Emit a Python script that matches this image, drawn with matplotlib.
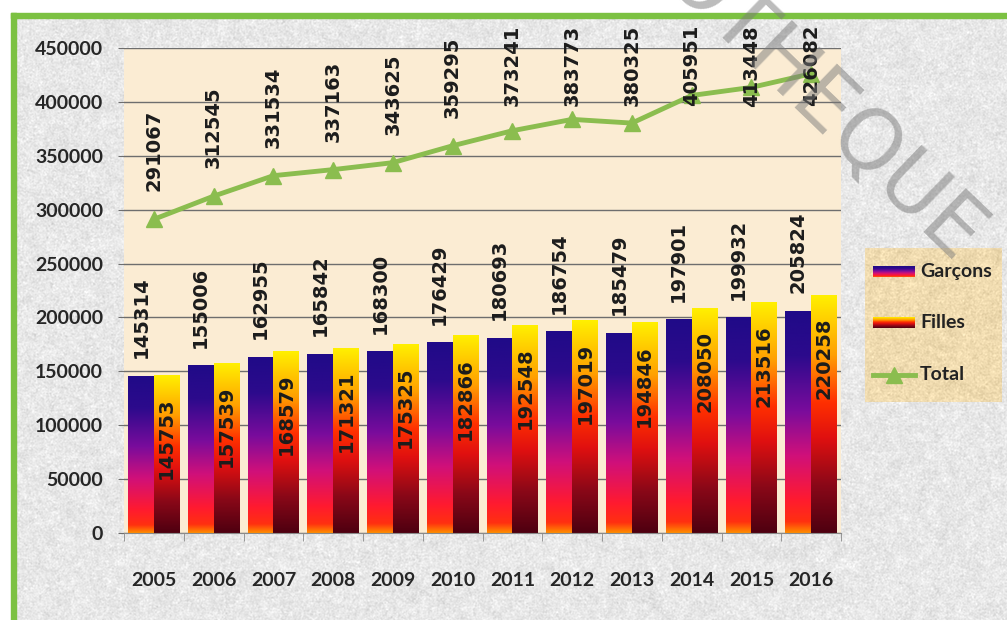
import numpy as np
import matplotlib.pyplot as plt
from matplotlib.colors import LinearSegmentedColormap

# Effectifs par année
years = ['2005', '2006', '2007', '2008', '2009', '2010',
         '2011', '2012', '2013', '2014', '2015', '2016']
garcons = [145314, 155006, 162955, 165842, 168300, 176429,
           180693, 186754, 185479, 197901, 199932, 205824]
filles = [145753, 157539, 168579, 171321, 175325, 182866,
          192548, 197019, 194846, 208050, 213516, 220258]
total = [291067, 312545, 331534, 337163, 343625, 359295,
         373241, 383773, 380325, 405951, 413448, 426082]

W, H = 1007, 620
TICK_FONT = ['Lato', 'DejaVu Sans']
LABEL_FONT = ['DejaVu Sans']

# gradients (bas -> haut)
cmap_g = LinearSegmentedColormap.from_list('garcons', [
    (0.0, '#ff8c00'), (0.05, '#ff3010'), (0.15, '#ff1a30'),
    (0.35, '#d0107a'), (0.55, '#7a0c9c'), (0.8, '#2c0a8c'), (1.0, '#200a88')])
cmap_f = LinearSegmentedColormap.from_list('filles', [
    (0.0, '#4e0010'), (0.2, '#8a0818'), (0.4, '#e01010'),
    (0.55, '#ff3000'), (0.75, '#ffa000'), (1.0, '#fff000')])
line_color = '#8bbd4f'


def blur(a, k):
    kern = np.ones(k) / k
    a = np.apply_along_axis(lambda r: np.convolve(r, kern, mode='same'), 1, a)
    a = np.apply_along_axis(lambda c: np.convolve(c, kern, mode='same'), 0, a)
    return a


def paper(h, w, base, seed):
    rng = np.random.default_rng(seed)
    fine = blur(rng.normal(0, 1, (h, w)), 2)
    coarse = blur(rng.normal(0, 1, (h, w)), 9)
    shade = 0.045 * fine + 0.09 * coarse
    img = np.clip(np.array(base)[None, None, :] + shade[:, :, None], 0, 1)
    return img


fig = plt.figure(figsize=(W / 100, H / 100), dpi=100)

# fond texturé + cadre vert
bg = fig.add_axes([0, 0, 1, 1])
bg.imshow(paper(H, W, (0.91, 0.91, 0.91), 1), extent=[0, W, H, 0], aspect='auto')
bg.fill_between([0, W], 0, 12, color='white')
bg.fill_between([0, 10], 0, H, color='white')
bg.fill_between([11, W], 13, 18, color='#7cc142')
bg.fill_between([11, 16], 13, H, color='#7cc142')
bg.set_xlim(0, W)
bg.set_ylim(H, 0)
bg.axis('off')

ax = fig.add_axes([124 / W, 87 / H, 717 / W, 485 / H])
ax.set_facecolor('#fbecd3')
x = np.arange(len(years))
bw = 0.433

bars_g = ax.bar(x - bw / 2, garcons, bw, color='none', zorder=2)
bars_f = ax.bar(x + bw / 2, filles, bw, color='none', zorder=2)
grad = np.linspace(0, 1, 256).reshape(-1, 1)
for bars, cmap in ((bars_g, cmap_g), (bars_f, cmap_f)):
    for r in bars:
        x0, w, h = r.get_x(), r.get_width(), r.get_height()
        ax.imshow(grad, cmap=cmap, origin='lower', aspect='auto',
                  extent=[x0, x0 + w, 0, h], zorder=2, interpolation='bilinear')

ax.plot(x, total, color=line_color, lw=3.5, marker='^', ms=11, zorder=4)

# étiquettes de valeurs
lab = dict(rotation=90, ha='center', fontsize=14, fontweight='bold',
           family=LABEL_FONT, color='#1c1c1c', textcoords='offset pixels',
           zorder=5, annotation_clip=False)
total_labels = []
for i in range(len(years)):
    total_labels.append(
        ax.annotate(str(total[i]), (x[i], total[i]), xytext=(0, 28), va='bottom', **lab))
    ax.annotate(str(garcons[i]), (x[i] - bw / 2, garcons[i]), xytext=(0, 18), va='bottom', **lab)
    ax.annotate(str(filles[i]), (x[i] + bw / 2, filles[i]), xytext=(0, -22), va='top', **lab)

ax.set_xlim(-0.5, len(years) - 0.5)
ax.set_ylim(0, 450000)
ax.set_yticks(range(0, 450001, 50000))
ax.set_xticks(x)
ax.set_xticklabels(years)
ax.set_xticks(np.arange(-0.5, len(years), 1), minor=True)
ax.grid(axis='y', color='#6e6e6e', lw=1, zorder=1)
ax.set_axisbelow(True)
for s in ('top', 'right', 'left'):
    ax.spines[s].set_visible(False)
ax.spines['bottom'].set_color('#8a8a8a')
ax.tick_params(axis='y', length=4, color='#6e6e6e', pad=11)
ax.tick_params(axis='x', which='major', length=0, pad=28)
ax.tick_params(axis='x', which='minor', length=6, color='#8a8a8a')
for t in ax.get_xticklabels() + ax.get_yticklabels():
    t.set_family(TICK_FONT)
    t.set_fontweight('bold')
    t.set_fontsize(14)
    t.set_color('#262626')

# les étiquettes du total restent sous le cadre
renderer = fig.canvas.get_renderer()
top_limit = H - 25
for ann in total_labels:
    ext = ann.get_window_extent(renderer)
    if ext.y1 > top_limit:
        dx, dy = ann.xyann
        ann.xyann = (dx, dy - (ext.y1 - top_limit))

# légende
lg = fig.add_axes([865 / W, (H - 402) / H, 137 / W, 154 / H])
lg.imshow(paper(154, 137, (0.94, 0.86, 0.69), 2), extent=[0, 137, 0, 154], aspect='auto')
lg.imshow(grad, cmap=cmap_g, origin='lower', aspect='auto', extent=[8, 50, 124.5, 135.5])
lg.imshow(grad, cmap=cmap_f, origin='lower', aspect='auto', extent=[8, 50, 73.5, 84.5])
lg.plot([8, 50], [27, 27], color=line_color, lw=3.5)
lg.plot([29], [27], color=line_color, marker='^', ms=11)
for ty, name in ((130, 'Garçons'), (79, 'Filles'), (27, 'Total')):
    lg.text(55, ty, name, va='center', ha='left', fontsize=14, fontweight='bold',
            family=TICK_FONT, color='#222222')
lg.set_xlim(0, 137)
lg.set_ylim(0, 154)
lg.axis('off')

# filigrane
fig.text(953 / W, 1 - 268 / H, 'BIBLIOTHEQUE', rotation=-44, rotation_mode='anchor',
         ha='right', va='baseline', fontsize=60, color='#7a7a7a', alpha=0.5,
         family='DejaVu Sans', zorder=10)

fig.savefig('out.png', dpi=100)
